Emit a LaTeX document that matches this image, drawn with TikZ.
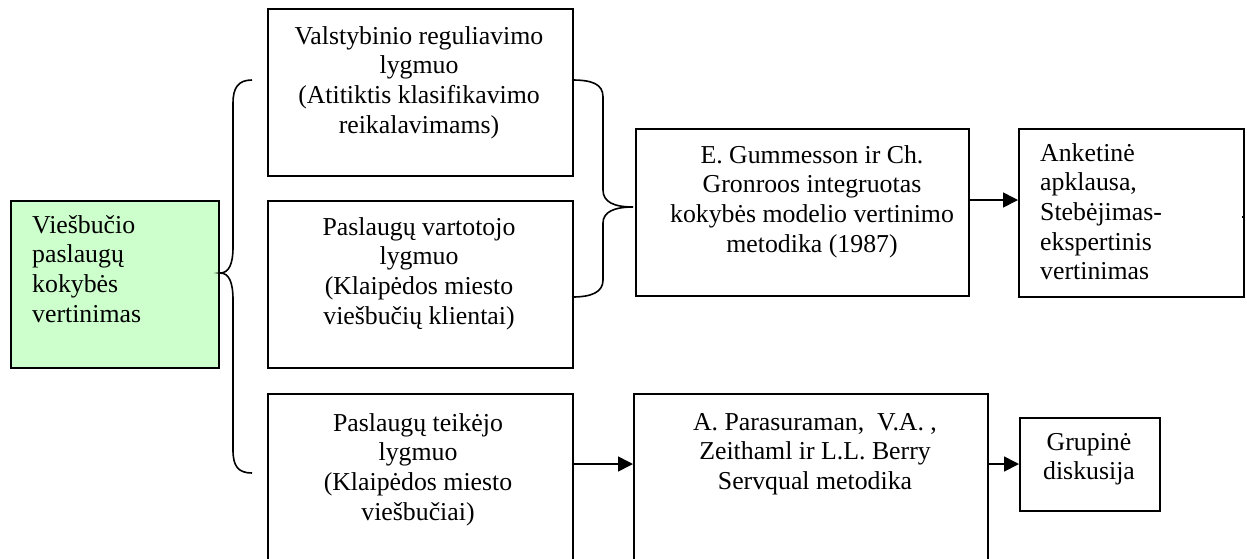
\documentclass[tikz,border=0pt]{standalone}
\usepackage{fontspec}
\setmainfont{Liberation Serif}
\usetikzlibrary{arrows.meta}
\definecolor{palegreen}{RGB}{204,255,204}
\begin{document}
\begin{tikzpicture}[x=1pt,y=-1pt,
  frame/.style={draw=black, line width=1.6pt, inner sep=0pt, anchor=north west},
  txt/.style={font=\fontsize{25.8}{29.7}\selectfont, inner sep=0pt, align=center, anchor=north},
  ltxt/.style={font=\fontsize{25.8}{29.7}\selectfont, inner sep=0pt, align=left, anchor=north west},
  link/.style={line width=1.6pt, -{Triangle[length=15pt,width=15pt]}},
  brace/.style={line width=1.6pt}]
\useasboundingbox (0,0) rectangle (1247,558);
\clip (0,0) rectangle (1247,558);

% boxes
\node[frame, fill=palegreen, minimum width=208pt, minimum height=167pt] (root) at (10,200) {};
\node[frame, minimum width=305pt, minimum height=167pt] (state) at (267,8) {};
\node[frame, minimum width=305pt, minimum height=167pt] (client) at (267,200) {};
\node[frame, minimum width=305pt, minimum height=220pt] (provider) at (267,393) {};
\node[frame, minimum width=333pt, minimum height=167pt] (gummesson) at (635,128) {};
\node[frame, minimum width=225pt, minimum height=168pt] (survey) at (1018,128) {};
\node[frame, minimum width=354pt, minimum height=220pt] (servqual) at (633,393) {};
\node[frame, minimum width=140pt, minimum height=93pt] (group) at (1019,417) {};

% texts
\node[ltxt] (rootT) at (32,215) {Viešbučio\\paslaugų\\kokybės\\vertinimas};
\node[txt] (stateT) at (419,26) {Valstybinio reguliavimo\\lygmuo\\(Atitiktis klasifikavimo\\reikalavimams)};
\node[txt] (clientT) at (419,217) {Paslaugų vartotojo\\lygmuo\\(Klaipėdos miesto\\viešbučių klientai)};
\node[txt] (providerT) at (418,413) {Paslaugų teikėjo\\lygmuo\\(Klaipėdos miesto\\viešbučiai)};
\node[txt] (gummessonT) at (812,145) {E. Gummesson ir Ch.\\Gronroos integruotas\\kokybės modelio vertinimo\\metodika (1987)};
\node[ltxt] (surveyT) at (1040,143) {Anketinė\\apklausa,\\Stebėjimas-\\ekspertinis\\vertinimas};
\node[txt] (servqualT) at (815,413) {A. Parasuraman,\ \ V.A. ,\\Zeithaml ir L.L. Berry\\Servqual metodika};
\node[txt] (groupT) at (1089,433) {Grupinė\\diskusija};

% braces
\draw[brace] (252,80) .. controls (238,80) and (233,88) .. (233,103) -- (233,247)
  .. controls (233,264) and (229,273) .. (220,273)
  .. controls (229,273) and (233,282) .. (233,300) -- (233,450)
  .. controls (233,466) and (238,473) .. (252,473);
\draw[brace] (572,80) .. controls (592,80) and (603,84) .. (603,97) -- (603,190)
  .. controls (603,202) and (614,207) .. (633,207)
  .. controls (614,207) and (603,212) .. (603,223) -- (603,280)
  .. controls (603,292) and (592,297) .. (572,297);

% connectors
\coordinate (rowA) at (0,200);
\coordinate (rowB) at (0,464);
\coordinate (stub) at (0,217);
\draw[link] (gummesson.east |- rowA) -- (survey.west |- rowA);
\draw[link] (provider.east |- rowB) -- (servqual.west |- rowB);
\draw[link] (servqual.east |- rowB) -- (group.west |- rowB);
\draw[line width=1.2pt] (survey.east |- stub) -- ++(-3,0);
\end{tikzpicture}
\end{document}
